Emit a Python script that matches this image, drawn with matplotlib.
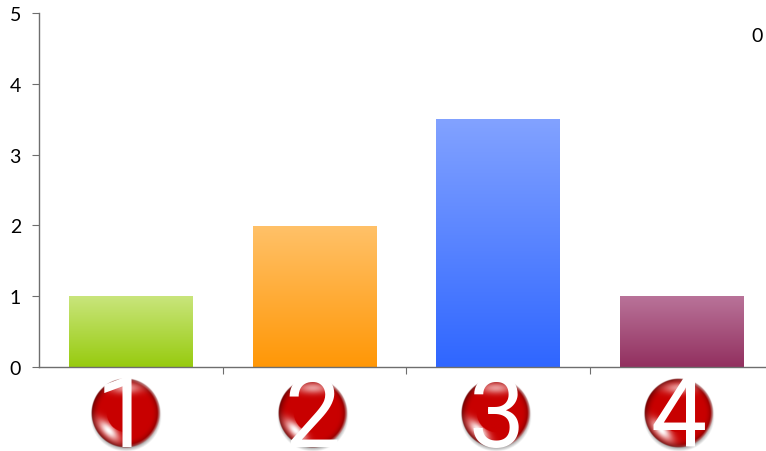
import numpy as np
import matplotlib
matplotlib.use("Agg")
import matplotlib.pyplot as plt
from matplotlib.colors import to_rgb, LinearSegmentedColormap

categories = ["1", "2", "3", "4"]
values = [1, 1.98, 3.5, 1]
top_colors = ["#c9e57c", "#ffc168", "#82a2ff", "#b97399"]
bottom_colors = ["#97cb0e", "#ff9706", "#2f66ff", "#92305f"]
y_ticks = [0, 1, 2, 3, 4, 5]
stray_label = "0"

plt.rcParams["font.family"] = ["Lato", "DejaVu Sans"]

W, H = 766, 452
fig = plt.figure(figsize=(W / 100, H / 100), dpi=100)
ax = fig.add_axes([39 / W, 1 - 368 / H, 734 / W, 354 / H])

# bars, gradient goes on top of them
x = np.arange(len(categories))
bars = ax.bar(x, values, width=0.672, color="none")
for b, c1, c2 in zip(bars, top_colors, bottom_colors):
    cmap = LinearSegmentedColormap.from_list("g", [c1, c2])
    ax.imshow(np.linspace(0, 1, 256).reshape(-1, 1), cmap=cmap, aspect="auto", origin="upper",
              extent=[b.get_x(), b.get_x() + b.get_width(), 0, b.get_height()], zorder=2)

ax.set_xlim(-0.5, len(categories) - 0.5)
ax.set_ylim(0, 5)
ax.set_yticks(y_ticks)
ax.set_xticks(x[:-1] + 0.5)
ax.set_xticklabels([])
ax.spines["top"].set_visible(False)
ax.spines["right"].set_visible(False)
for s in ["left", "bottom"]:
    ax.spines[s].set_color("#6e6e6e")
    ax.spines[s].set_linewidth(1.0)
ax.tick_params(axis="both", direction="out", length=5, width=0.8, color="#6e6e6e")
ax.tick_params(axis="y", labelsize=14, labelcolor="black", pad=8)

fig.text(757 / W, 1 - 36 / H, stray_label, fontsize=14, ha="center", va="center", color="black")


def badge_image(n=200):
    # red ball with a rim, a glare bottom left and a sheen at the top
    yy, xx = np.mgrid[-1:1:n * 1j, -1:1:n * 1j]
    r = np.sqrt(xx ** 2 + yy ** 2)
    img = np.zeros((n, n, 4))
    red = np.array(to_rgb("#c80000"))
    rgb = np.ones((n, n, 3)) * red
    dark = np.clip((r - 0.72) / 0.26, 0, 1)[..., None] ** 2
    rgb = rgb * (1 - 0.45 * dark)
    glare = np.exp(-(((xx - yy + 1.0) / 0.22) ** 2 + ((xx + yy) / 0.5) ** 2) / 1.2) * (r > 0.55)
    sheen = np.exp(-((xx / 0.45) ** 2 + ((yy + 0.72) / 0.16) ** 2)) * 0.6
    rim = np.clip((r - 0.9) / 0.1, 0, 1) * np.clip((xx + 0.2), 0, 1) * 0.8
    light = np.clip(glare + sheen + rim, 0, 1)[..., None]
    rgb = rgb * (1 - light) + light
    img[..., :3] = rgb
    img[..., 3] = np.clip((1 - r) / 0.03, 0, 1)
    return img


def shadow_image(n=100):
    yy, xx = np.mgrid[-1:1:n * 1j, -1:1:n * 1j]
    r = np.sqrt(xx ** 2 + yy ** 2)
    img = np.zeros((n, n, 4))
    img[..., :3] = 0.35
    img[..., 3] = np.clip((1 - r) / 0.12, 0, 1) * 0.55
    return img


# overlay in pixels for the round number badges under the axis
over = fig.add_axes([0, 0, 1, 1], facecolor="none")
over.axis("off")
ball = badge_image()
shadow = shadow_image()
nudge = [-5, -1.5, -2, -2.5]
digit_nudge = [-2, 0, 1, 0]
for i, cat in enumerate(categories):
    cx = ax.transData.transform((x[i], 0))[0] + nudge[i]
    cy, rad = 414, 35
    over.imshow(shadow, extent=[cx - rad - 1, cx + rad + 1, cy + rad + 4, cy - rad + 2], zorder=3, aspect="auto")
    over.imshow(ball, extent=[cx - rad, cx + rad, cy + rad, cy - rad], zorder=4, aspect="auto")
    over.text(cx + digit_nudge[i], 447, cat, fontsize=72, color="white", ha="center", va="baseline",
              family="Roboto", zorder=5, clip_on=False)
over.set_xlim(0, W)
over.set_ylim(H, 0)

fig.savefig("out.png", dpi=100)
